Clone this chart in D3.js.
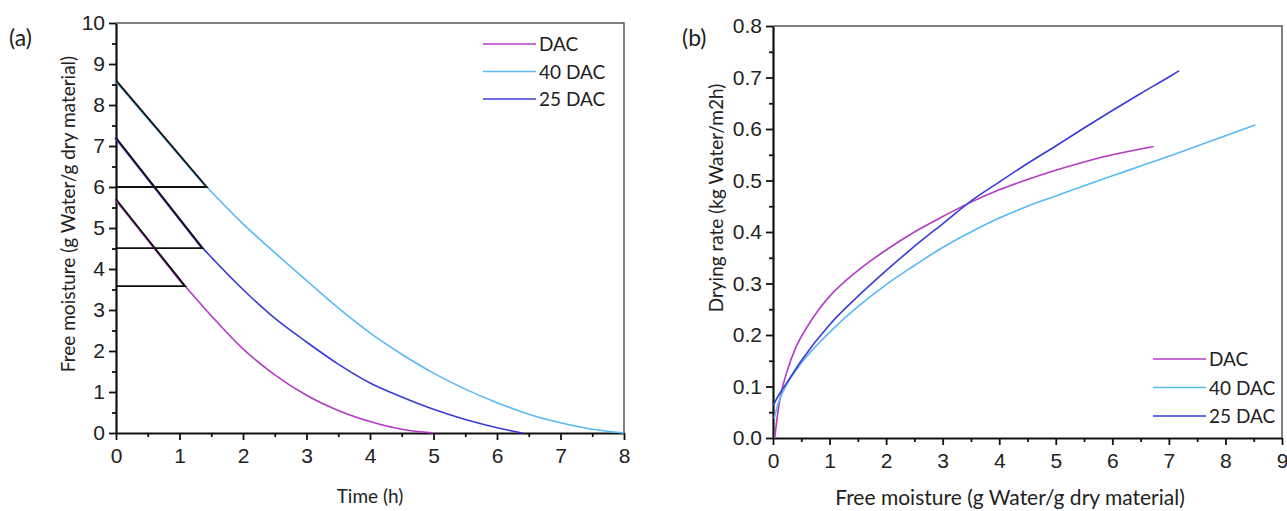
<!DOCTYPE html>
<html>
<head>
<meta charset="utf-8">
<script src="https://cdn.jsdelivr.net/npm/d3@7"></script>
<style>
  body { margin: 0; background: #fff; }
  svg { display: block; font-family: Lato, "Open Sans", sans-serif; }
</style>
</head>
<body>
<svg id="chartArea" width="1287" height="511"></svg>
<script>
// ---- data: panel (a) free moisture vs time ----
const seriesNames = ["DAC", "40 DAC", "25 DAC"];
const seriesColors = ["#b43bc6", "#59baf3", "#3a3ad8"];

// first point = start of tangent, second point = critical point
const dacTime = [0, 1.09, 1.5, 2, 2.5, 3, 3.5, 4, 4.5, 5];
const dacMoist = [5.7, 3.58, 2.86, 2.05, 1.42, 0.92, 0.55, 0.28, 0.09, 0];
const dac40Time = [0, 1.43, 2, 2.5, 3, 3.5, 4, 4.5, 5, 5.5, 6, 6.5, 7, 7.5, 8];
const dac40Moist = [8.6, 6.0, 5.1, 4.4, 3.72, 3.05, 2.44, 1.92, 1.46, 1.07, 0.74, 0.46, 0.25, 0.09, 0];
const dac25Time = [0, 1.365, 2, 2.5, 3, 3.5, 4, 4.5, 5, 5.5, 6, 6.4];
const dac25Moist = [7.2, 4.51, 3.5, 2.8, 2.22, 1.68, 1.22, 0.88, 0.58, 0.33, 0.13, 0];

// ---- data: panel (b) drying rate vs free moisture ----
const dacX = [0.03, 0.08, 0.15, 0.25, 0.4, 0.6, 0.8, 1, 1.5, 2, 2.5, 3, 3.5, 4, 4.5, 5, 5.5, 6, 6.5, 6.73];
const dacRate = [0, 0.045, 0.09, 0.13, 0.175, 0.215, 0.248, 0.275, 0.325, 0.365, 0.4, 0.43, 0.458, 0.482, 0.502, 0.52, 0.536, 0.55, 0.561, 0.566];
const dac40X = [0.02, 0.1, 0.25, 0.5, 1, 1.5, 2, 2.5, 3, 3.5, 4, 4.5, 5, 5.5, 6, 6.5, 7, 7.5, 8, 8.53];
const dac40Rate = [0.038, 0.07, 0.105, 0.145, 0.205, 0.255, 0.298, 0.335, 0.37, 0.4, 0.427, 0.45, 0.47, 0.49, 0.509, 0.528, 0.547, 0.567, 0.587, 0.608];
const dac25X = [0, 0.1, 0.25, 0.5, 1, 1.5, 2, 2.5, 3, 3.5, 4, 4.5, 5, 5.5, 6, 6.5, 7, 7.18];
const dac25Rate = [0.063, 0.083, 0.108, 0.15, 0.22, 0.275, 0.325, 0.372, 0.416, 0.46, 0.497, 0.533, 0.567, 0.602, 0.636, 0.669, 0.701, 0.713];

const timeTicks = d3.range(0, 9, 1);
const moistTicks = d3.range(0, 11, 1);
const freeTicks = d3.range(0, 10, 1);
const rateTicks = d3.range(0, 0.81, 0.1);

const svg = d3.select("#chartArea");

function zip(xs, ys) { return xs.map((x, i) => ({x: x, y: ys[i]})); }

function drawFrame(g, x, y, xTicks, xMinor, yTicks, yMinor, yFmt) {
    const [x0, x1] = x.range();
    const [y0, y1] = y.range();

    // minor ticks
    g.append("g")
        .attr("transform", `translate(0,${y0})`)
        .call(d3.axisBottom(x).tickValues(xMinor).tickSize(4).tickFormat(""))
        .call(a => a.select(".domain").remove());
    g.append("g")
        .attr("transform", `translate(${x0},0)`)
        .call(d3.axisLeft(y).tickValues(yMinor).tickSize(4).tickFormat(""))
        .call(a => a.select(".domain").remove());

    let xa = g.append("g")
        .attr("transform", `translate(0,${y0})`)
        .call(d3.axisBottom(x).tickValues(xTicks).tickSize(7).tickSizeOuter(0).tickPadding(8).tickFormat(d3.format("d")));
    let ya = g.append("g")
        .attr("transform", `translate(${x0},0)`)
        .call(d3.axisLeft(y).tickValues(yTicks).tickSize(7).tickSizeOuter(0).tickPadding(4).tickFormat(yFmt));

    [xa, ya].forEach(a => {
        a.select(".domain").attr("stroke", "#111").attr("stroke-width", 2.2);
        a.selectAll("text").attr("fill", "#222").style("font-size", "21px");
    });
    g.selectAll(".tick line").attr("stroke", "#111").attr("stroke-width", 1.8);

    // top and right border
    g.append("path")
        .attr("d", `M${x0},${y1}H${x1}V${y0}`)
        .attr("fill", "none")
        .attr("stroke", "#555")
        .attr("stroke-width", 1.5);
}

function drawLegend(g, lx, ly, gap) {
    let legend = g.selectAll(".legend")
        .data(seriesNames)
        .enter().append("g")
        .attr("transform", (d, i) => `translate(${lx}, ${ly + i * gap})`);
    legend.append("line")
        .attr("x1", 0).attr("x2", 53)
        .attr("stroke", (d, i) => seriesColors[i])
        .attr("stroke-width", 1.5);
    legend.append("text")
        .attr("x", 56)
        .attr("y", 7)
        .style("font-size", "19px")
        .attr("fill", "#222")
        .text(d => d);
}

// ---------- panel (a) ----------
const gA = svg.append("g");
const xA = d3.scaleLinear().domain([0, 8]).range([116, 624]);
const yA = d3.scaleLinear().domain([0, 10]).range([433, 23]);

drawFrame(gA, xA, yA, timeTicks, d3.range(0.5, 8, 1), moistTicks, d3.range(0.5, 10, 1), d3.format("d"));

const lineA = d3.line().x(d => xA(d.x)).y(d => yA(d.y)).curve(d3.curveMonotoneX);
const dataA = [zip(dacTime, dacMoist), zip(dac40Time, dac40Moist), zip(dac25Time, dac25Moist)];

dataA.forEach((pts, i) => {
    // constant-rate part, under the black tangent
    gA.append("path")
        .datum(pts.slice(0, 2))
        .attr("fill", "none")
        .attr("stroke", seriesColors[i])
        .attr("stroke-width", 1.6)
        .attr("transform", "translate(-1,0)")
        .attr("d", d3.line().x(d => xA(d.x)).y(d => yA(d.y)));
    gA.append("path")
        .datum(pts.slice(1))
        .attr("fill", "none")
        .attr("stroke", seriesColors[i])
        .attr("stroke-width", 1.6)
        .attr("d", lineA);
});

dataA.forEach(pts => {
    let s = pts[0], c = pts[1];
    gA.append("path")
        .attr("d", `M${xA(s.x)},${yA(s.y)}L${xA(c.x)},${yA(c.y)}L${xA(0)},${yA(c.y)}`)
        .attr("fill", "none")
        .attr("stroke", "#111")
        .attr("stroke-width", 1.8);
});

drawLegend(gA, 483, 44, 27.5);

gA.append("text")
    .attr("transform", `translate(75, 214) rotate(-90)`)
    .attr("text-anchor", "middle")
    .style("font-size", "19px")
    .attr("fill", "#222")
    .text("Free moisture (g Water/g dry material)");
gA.append("text")
    .attr("x", 370).attr("y", 503)
    .attr("text-anchor", "middle")
    .style("font-size", "19px")
    .attr("fill", "#222")
    .text("Time (h)");
gA.append("text")
    .attr("x", 9).attr("y", 46)
    .style("font-size", "23px")
    .attr("fill", "#222")
    .text("(a)");

// ---------- panel (b) ----------
const gB = svg.append("g");
const xB = d3.scaleLinear().domain([0, 9]).range([773, 1282]);
const yB = d3.scaleLinear().domain([0, 0.8]).range([438, 26]);

drawFrame(gB, xB, yB, freeTicks, d3.range(0.5, 9, 1), rateTicks, d3.range(0.05, 0.8, 0.1), d3.format(".1f"));

const lineB = d3.line().x(d => xB(d.x)).y(d => yB(d.y)).curve(d3.curveMonotoneX);
const dataB = [zip(dacX, dacRate), zip(dac40X, dac40Rate), zip(dac25X, dac25Rate)];

dataB.forEach((pts, i) => {
    gB.append("path")
        .datum(pts)
        .attr("fill", "none")
        .attr("stroke", seriesColors[i])
        .attr("stroke-width", 1.6)
        .attr("d", lineB);
});

drawLegend(gB, 1153, 359, 28.5);

gB.append("text")
    .attr("transform", `translate(723, 198) rotate(-90)`)
    .attr("text-anchor", "middle")
    .style("font-size", "19px")
    .attr("fill", "#222")
    .text("Drying rate (kg Water/m2h)");
gB.append("text")
    .attr("x", 1010).attr("y", 505)
    .attr("text-anchor", "middle")
    .style("font-size", "21px")
    .attr("fill", "#222")
    .text("Free moisture (g Water/g dry material)");
gB.append("text")
    .attr("x", 682).attr("y", 46)
    .style("font-size", "23px")
    .attr("fill", "#222")
    .text("(b)");
</script>
</body>
</html>
